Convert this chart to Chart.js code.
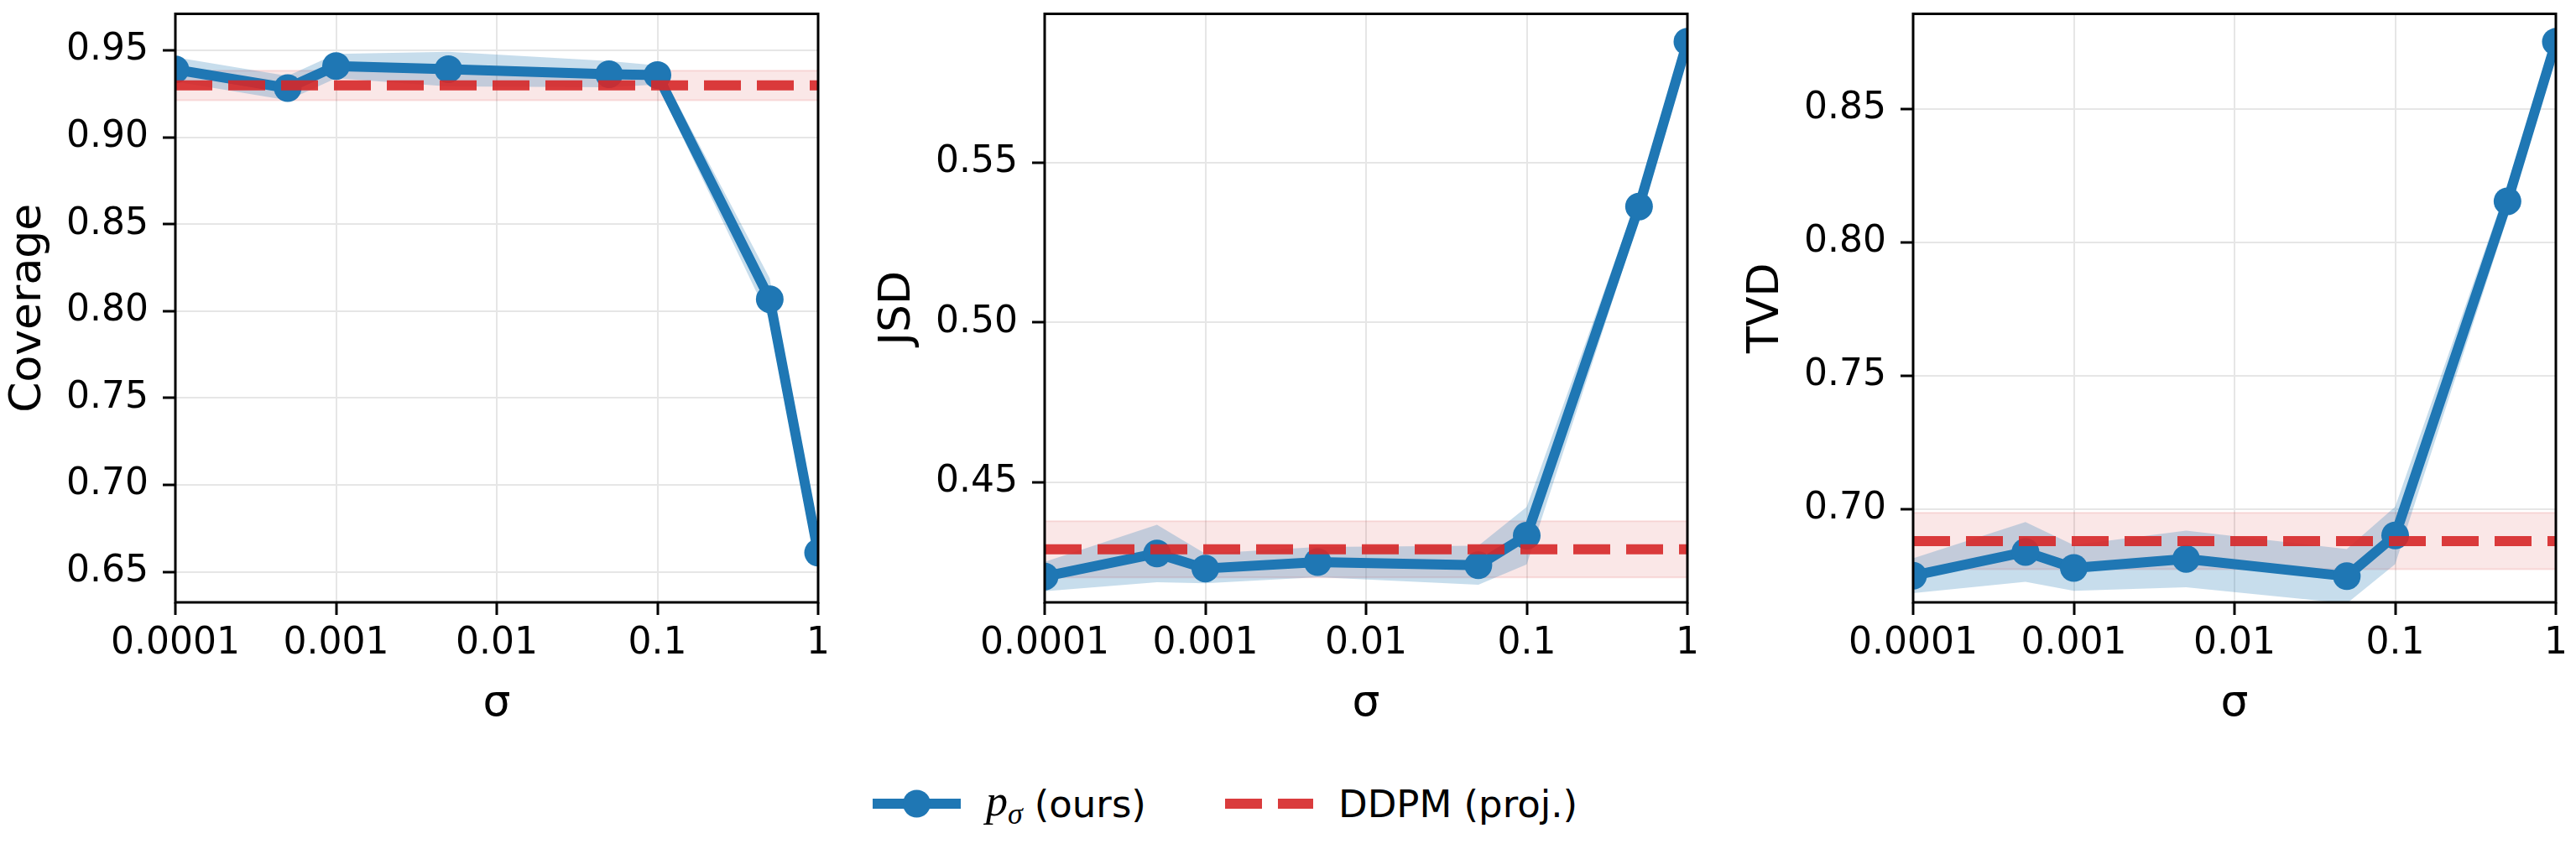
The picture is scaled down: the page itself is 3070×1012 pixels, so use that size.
<!DOCTYPE html>
<html>
<head>
<meta charset="utf-8">
<script src="https://cdn.jsdelivr.net/npm/chart.js@4.4.1/dist/chart.umd.min.js"></script>
<style>
  html, body { margin: 0; padding: 0; background: #fff; }
  body { width: 3070px; height: 1012px; position: relative; overflow: hidden; font-family: "DejaVu Sans", sans-serif; }
  canvas { position: absolute; top: 0; }
  .leg { position: absolute; top: 938px; height: 40px; display: flex; align-items: center; font-size: 45px; color: #000; white-space: nowrap; }
  .leg svg { margin-right: 30px; }
  .leg .m { font-family: "Liberation Serif", serif; font-style: italic; font-size: 52px; }
  .leg .m sub { font-size: 36px; vertical-align: -10px; }
  .leg .t { margin-left: 14px; }
</style>
</head>
<body>
<canvas id="coverage" width="999" height="880" style="left:0px"></canvas>
<canvas id="jsd" width="999" height="880" style="left:1036px"></canvas>
<canvas id="tvd" width="999" height="880" style="left:2071px"></canvas>

<div class="leg" style="left:1040px">
  <svg width="105" height="40"><line x1="0" y1="20" x2="105" y2="20" stroke="#1f77b4" stroke-width="12"/><circle cx="52.5" cy="20" r="16.5" fill="#1f77b4"/></svg>
  <span class="m">p<sub>σ</sub></span><span class="t">(ours)</span>
</div>
<div class="leg" style="left:1460px">
  <svg width="105" height="40"><line x1="0" y1="20" x2="105" y2="20" stroke="rgba(214,39,40,0.9)" stroke-width="12" stroke-dasharray="44 19"/></svg>
  <span>DDPM (proj.)</span>
</div>

<script>
// noise levels on the x axis
const sigmas = [0.0001, 0.0005, 0.001, 0.005, 0.05, 0.1, 0.5, 1];
const xTickValues = [0.0001, 0.001, 0.01, 0.1, 1];
const xTickLabels = ['0.0001', '0.001', '0.01', '0.1', '1'];

// Coverage
const coverageMean = [0.939, 0.9283, 0.941, 0.9392, 0.9363, 0.9358, 0.8068, 0.661];
const coverageStd = [0.007, 0.007, 0.007, 0.010, 0.0075, 0.0055, 0.012, 0.004];
const coverageDdpm = 0.9298;
const coverageDdpmStd = 0.0085;
const coverageTicks = [0.65, 0.70, 0.75, 0.80, 0.85, 0.90, 0.95];
const coverageRange = [0.6324, 0.971];

// JSD
const jsdMean = [0.4205, 0.4277, 0.4230, 0.4250, 0.4240, 0.4333, 0.5363, 0.5879];
const jsdStd = [0.0046, 0.009, 0.0046, 0.0047, 0.0061, 0.009, 0.004, 0.003];
const jsdDdpm = 0.4290;
const jsdDdpmStd = 0.0088;
const jsdTicks = [0.45, 0.50, 0.55];
const jsdRange = [0.4124, 0.5966];

// TVD
const tvdMean = [0.6750, 0.6839, 0.6779, 0.6813, 0.6748, 0.6901, 0.8154, 0.8752];
const tvdStd = [0.0065, 0.0112, 0.0086, 0.0106, 0.0102, 0.0108, 0.006, 0.004];
const tvdDdpm = 0.6880;
const tvdDdpmStd = 0.0106;
const tvdTicks = [0.70, 0.75, 0.80, 0.85];
const tvdRange = [0.665, 0.8857];

const BLUE = '#1f77b4';
const RED = 'rgba(214,39,40,0.9)';

const frame = {
  id: 'frame',
  afterDatasetsDraw(chart) {
    const { ctx, chartArea: a } = chart;
    ctx.save();
    ctx.strokeStyle = '#000';
    ctx.lineWidth = 3;
    ctx.strokeRect(a.left, a.top, a.right - a.left, a.bottom - a.top);
    ctx.restore();
  }
};

function buildPanel(id, mean, std, ddpm, ddpmStd, yTicks, yRange, yLabel) {
  const pts = arr => sigmas.map((s, i) => ({ x: s, y: arr[i] }));
  const flat = v => [{ x: sigmas[0], y: v }, { x: sigmas[sigmas.length - 1], y: v }];
  const upper = mean.map((m, i) => m + std[i]);
  const lower = mean.map((m, i) => m - std[i]);

  return new Chart(document.getElementById(id), {
    type: 'line',
    data: {
      datasets: [
        {
          label: 'DDPM (proj.)',
          data: flat(ddpm),
          borderColor: RED,
          borderWidth: 12,
          borderDash: [44, 19],
          pointRadius: 0,
          fill: false,
          clip: 0
        },
        {
          label: 'p_σ (ours)',
          data: pts(mean),
          borderColor: BLUE,
          backgroundColor: BLUE,
          borderWidth: 12,
          borderJoinStyle: 'round',
          pointRadius: 16.5,
          pointBorderWidth: 0,
          pointBackgroundColor: BLUE,
          fill: false,
          clip: 0
        },
        {
          data: pts(upper),
          borderWidth: 0,
          pointRadius: 0,
          backgroundColor: 'rgba(31,119,180,0.25)',
          fill: '+1',
          clip: 0
        },
        {
          data: pts(lower),
          borderWidth: 0,
          pointRadius: 0,
          fill: false,
          clip: 0
        },
        {
          data: flat(ddpm + ddpmStd),
          borderWidth: 2,
          borderColor: 'rgba(214,39,40,0.13)',
          backgroundColor: 'rgba(214,39,40,0.11)',
          pointRadius: 0,
          fill: '+1',
          clip: 0
        },
        {
          data: flat(ddpm - ddpmStd),
          borderWidth: 2,
          borderColor: 'rgba(214,39,40,0.13)',
          pointRadius: 0,
          fill: false,
          clip: 0
        }
      ]
    },
    options: {
      responsive: false,
      animation: false,
      devicePixelRatio: 1,
      layout: { padding: { top: 7, right: 24, bottom: 0, left: 0 } },
      elements: { line: { tension: 0 } },
      plugins: {
        legend: { display: false },
        tooltip: { enabled: false }
      },
      scales: {
        x: {
          type: 'logarithmic',
          min: sigmas[0],
          max: sigmas[sigmas.length - 1],
          afterBuildTicks: s => { s.ticks = xTickValues.map(v => ({ value: v })); },
          afterFit: s => { s.height = 162; s.paddingLeft = 0; s.paddingRight = 0; },
          ticks: {
            autoSkip: false,
            maxRotation: 0,
            minRotation: 0,
            padding: 8,
            color: '#000',
            font: { family: 'DejaVu Sans', size: 44 },
            callback: (v, i) => xTickLabels[i]
          },
          grid: { color: '#e6e6e6', lineWidth: 2, tickColor: '#000', tickWidth: 3, tickLength: 15 },
          border: { display: false },
          title: {
            display: true,
            text: 'σ',
            color: '#000',
            font: { family: 'DejaVu Sans', size: 52 },
            padding: { top: 0, bottom: 9 }
          }
        },
        y: {
          type: 'linear',
          min: yRange[0],
          max: yRange[1],
          afterBuildTicks: s => { s.ticks = yTicks.map(v => ({ value: v })); },
          afterFit: s => { s.width = 209; s.paddingTop = 0; s.paddingBottom = 0; },
          ticks: {
            padding: 17,
            color: '#000',
            font: { family: 'DejaVu Sans', size: 44 },
            callback: v => v.toFixed(2)
          },
          grid: { color: '#e6e6e6', lineWidth: 2, tickColor: '#000', tickWidth: 3, tickLength: 15 },
          border: { display: false },
          title: {
            display: true,
            text: yLabel,
            color: '#000',
            font: { family: 'DejaVu Sans', size: 52 },
            padding: { top: 3, bottom: 0 }
          }
        }
      }
    },
    plugins: [frame]
  });
}

buildPanel('coverage', coverageMean, coverageStd, coverageDdpm, coverageDdpmStd, coverageTicks, coverageRange, 'Coverage');
buildPanel('jsd', jsdMean, jsdStd, jsdDdpm, jsdDdpmStd, jsdTicks, jsdRange, 'JSD');
buildPanel('tvd', tvdMean, tvdStd, tvdDdpm, tvdDdpmStd, tvdTicks, tvdRange, 'TVD');
</script>
</body>
</html>
